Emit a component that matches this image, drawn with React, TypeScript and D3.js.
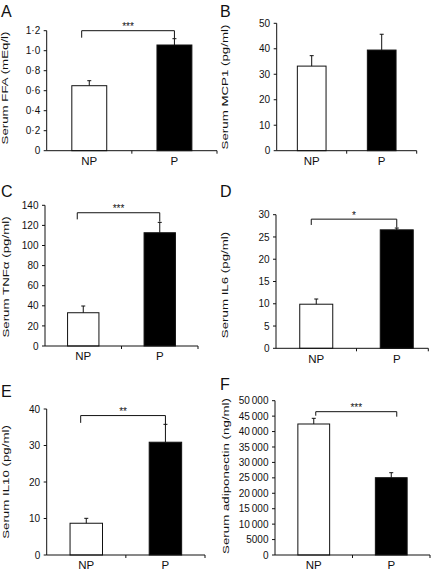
import React from "react";
import * as d3 from "d3";

const groups = ["NP", "P"];

const ffaMean = [0.65, 1.057];
const ffaSem = [0.05, 0.063];
const mcpMean = [33.2, 39.5];
const mcpSem = [4.1, 6.2];
const tnfMean = [33.1, 112.7];
const tnfSem = [6.7, 10.3];
const il6Mean = [9.9, 26.6];
const il6Sem = [1.17, 0.4];
const il10Mean = [8.7, 30.9];
const il10Sem = [1.35, 4.9];
const adipoMean = [42450, 25050];
const adipoSem = [1840, 1620];

const panelLetters = ["A", "B", "C", "D", "E", "F"];
const yLabels = [
  "Serum FFA (mEq/l)",
  "Serum MCP1 (pg/ml)",
  "Serum TNF\u03b1 (pg/ml)",
  "Serum IL6 (pg/ml)",
  "Serum IL10 (pg/ml)",
  "Serum adiponectin (ng/ml)",
];
const yMax = [1.2, 50, 140, 30, 40, 50000];
const yStep = [0.2, 10, 20, 5, 10, 5000];
const stars = ["***", "", "***", "*", "**", "***"];
// bracket: [bar level, left drop end, right drop end] in data units
const brackets: (number[] | null)[] = [
  [1.2, 1.13, 1.12],
  null,
  [132.6, 126, 123.7],
  [29.0, 27.7, 27.1],
  [38.2, 36.2, 35.6],
  [46440, 45140, 44820],
];

const means = [ffaMean, mcpMean, tnfMean, il6Mean, il10Mean, adipoMean];
const sems = [ffaSem, mcpSem, tnfSem, il6Sem, il10Sem, adipoSem];

const fmtDot = (d: number) => (d === 0 ? "0" : d3.format(".1f")(d).replace(".", "\u00b7"));
const fmtInt = (d: number) => String(d);
const fmtThin = (d: number) => (d >= 10000 ? d3.format(",")(d).replace(",", "\u2009") : String(d));
const formats = [fmtDot, fmtInt, fmtInt, fmtInt, fmtInt, fmtThin];

// layout (pixels)
const layout = [
  { x0: 46.7, xm: 131.85, xEnd: 217, y0: 150.7, yTop: 30.7, lx: 1, ly: 16.7, labX: 7.5, labY: 88, bl: -7.6, br: 0 },
  { x0: 276.7, xm: 346.7, xEnd: 416.7, y0: 150.7, yTop: 23.3, lx: 220, ly: 16.7, labX: 227.5, labY: 87, bl: 0, br: 0 },
  { x0: 45, xm: 121.5, xEnd: 198, y0: 346, yTop: 205.3, lx: 1, ly: 197, labX: 8.5, labY: 277, bl: -6, br: 0 },
  { x0: 276, xm: 356.5, xEnd: 428.3, y0: 348.3, yTop: 214.7, lx: 220, ly: 197, labX: 227.5, labY: 285, bl: -5, br: 0 },
  { x0: 46.7, xm: 125.85, xEnd: 205, y0: 555, yTop: 409, lx: 1, ly: 396.7, labX: 8.5, labY: 482, bl: -5.6, br: 0 },
  { x0: 275, xm: 352.5, xEnd: 430, y0: 555, yTop: 400.7, lx: 220, ly: 390, labX: 228.5, labY: 476, bl: 2, br: 5.5 },
];

const FONT = "'Liberation Sans', Arial, Helvetica, sans-serif";
const INK = "#111";

function Panel({ i }: { i: number }) {
  const L = layout[i];
  const x = d3
    .scaleBand<string>()
    .domain(groups)
    .range([L.x0, L.x0 + 2 * (L.xm - L.x0)])
    .paddingInner(0.59)
    .paddingOuter(0.295);
  const y = d3.scaleLinear().domain([0, yMax[i]]).range([L.y0, L.yTop]);
  const ticks = d3.range(0, yMax[i] + yStep[i] / 2, yStep[i]);
  const bw = x.bandwidth();
  const b = brackets[i];
  const cNP = (x("NP") as number) + bw / 2;
  const cP = (x("P") as number) + bw / 2;
  return (
    <g>
      <text x={L.lx} y={L.ly} fontSize={16} fontFamily={FONT} fill={INK}>
        {panelLetters[i]}
      </text>
      <text
        transform={`translate(${L.labX},${L.labY}) rotate(-90) scale(1.4,1)`}
        textAnchor="middle"
        fontSize={9.5}
        fontFamily={FONT}
        fill={INK}
      >
        {yLabels[i]}
      </text>
      {/* bars */}
      {groups.map((g, k) => (
        <rect
          key={g}
          x={x(g)}
          y={y(means[i][k])}
          width={bw}
          height={L.y0 - y(means[i][k])}
          fill={k === 0 ? "#fff" : "#000"}
          stroke={INK}
          strokeWidth={1}
        />
      ))}
      {/* error bars */}
      {groups.map((g, k) => {
        const cx = (x(g) as number) + bw / 2;
        const top = y(means[i][k] + sems[i][k]);
        return (
          <g key={g} stroke={INK} strokeWidth={1}>
            <line x1={cx} x2={cx} y1={y(means[i][k])} y2={top} />
            <line x1={cx - 2} x2={cx + 2} y1={top} y2={top} />
          </g>
        );
      })}
      {/* y axis */}
      <line x1={L.x0} x2={L.x0} y1={L.y0} y2={L.yTop} stroke={INK} strokeWidth={1} />
      {ticks.map((t) => (
        <g key={t}>
          <line x1={L.x0 - 3} x2={L.x0} y1={y(t)} y2={y(t)} stroke={INK} strokeWidth={1} />
          <text
            x={L.x0 - 6.5}
            y={y(t)}
            dy="0.36em"
            textAnchor="end"
            fontSize={10}
            fontFamily={FONT}
            fill={INK}
          >
            {formats[i](t)}
          </text>
        </g>
      ))}
      {/* x axis */}
      <line x1={L.x0} x2={L.xEnd} y1={L.y0} y2={L.y0} stroke={INK} strokeWidth={1} />
      <line x1={L.xm} x2={L.xm} y1={L.y0} y2={L.y0 + 3} stroke={INK} strokeWidth={1} />
      <line x1={L.xEnd} x2={L.xEnd} y1={L.y0} y2={L.y0 + 3} stroke={INK} strokeWidth={1} />
      {groups.map((g) => (
        <text
          key={g}
          x={(x(g) as number) + bw / 2}
          y={L.y0 + 14.3}
          textAnchor="middle"
          fontSize={11.5}
          fontFamily={FONT}
          fill={INK}
        >
          {g}
        </text>
      ))}
      {/* significance bracket */}
      {b && (
        <g>
          <path
            d={`M${cNP + L.bl},${y(b[1])}V${y(b[0])}H${cP + L.br}V${y(b[2])}`}
            fill="none"
            stroke={INK}
            strokeWidth={1}
          />
          <text
            x={(cNP + L.bl + cP + L.br) / 2}
            y={y(b[0]) - 0.5}
            textAnchor="middle"
            fontSize={10}
            fontFamily={FONT}
            fill={INK}
          >
            {stars[i]}
          </text>
        </g>
      )}
    </g>
  );
}

export default function App() {
  return (
    <svg
      width={440}
      height={574}
      style={{ position: "absolute", left: 0, top: 0, background: "#fff" }}
    >
      <rect width={440} height={574} fill="#fff" />
      {layout.map((_, i) => (
        <Panel key={i} i={i} />
      ))}
    </svg>
  );
}
